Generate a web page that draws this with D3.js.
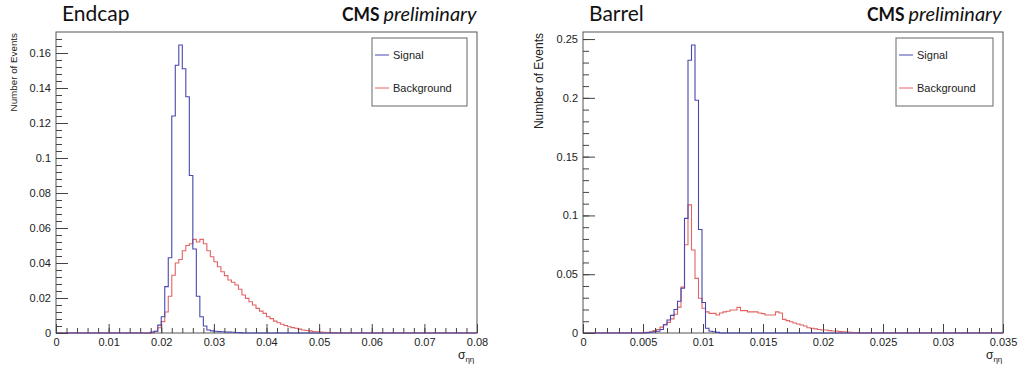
<!DOCTYPE html>
<html>
<head>
<meta charset="utf-8">
<script src="https://cdn.jsdelivr.net/npm/d3@7"></script>
<style>
  html, body { margin: 0; padding: 0; background: #fff; }
  svg { display: block; }
</style>
</head>
<body>
<svg id="chart" width="1021" height="367"></svg>
<script>
// ---------------- DATA ----------------
const nBins = 120;

// Endcap (x range 0 .. 0.08)
const endcapXTicks = [0, 0.01, 0.02, 0.03, 0.04, 0.05, 0.06, 0.07, 0.08];
const endcapXTickLabels = ["0", "0.01", "0.02", "0.03", "0.04", "0.05", "0.06", "0.07", "0.08"];
const endcapYTicks = [0, 0.02, 0.04, 0.06, 0.08, 0.1, 0.12, 0.14, 0.16];
const endcapYTickLabels = ["0", "0.02", "0.04", "0.06", "0.08", "0.1", "0.12", "0.14", "0.16"];
const endcapSignalStart = 27;
const endcapSignal = [0.0005, 0.001, 0.0045, 0.0093, 0.0265, 0.043, 0.124, 0.153, 0.1646, 0.151,
  0.135, 0.090, 0.048, 0.021, 0.0093, 0.004, 0.0017, 0.0012, 0.001, 0.0008, 0.0007, 0.0006,
  0.0005, 0.0004, 0.0003, 0.0002];
const endcapBackgroundStart = 28;
const endcapBackground = [0.001, 0.003, 0.0065, 0.012, 0.021, 0.033, 0.040, 0.042, 0.047, 0.050,
  0.051, 0.0535, 0.052, 0.0535, 0.051, 0.047, 0.0436, 0.0407, 0.0379, 0.035, 0.0328, 0.0303,
  0.029, 0.0274, 0.025, 0.0217, 0.0198, 0.0179, 0.016, 0.0141, 0.0125, 0.0112, 0.0093, 0.0082,
  0.0068, 0.0059, 0.0050, 0.0043, 0.0036, 0.0031, 0.0027, 0.0022, 0.0017, 0.0014, 0.0012,
  0.0009, 0.0007, 0.0005, 0.0004, 0.0003, 0.0002, 0.0001];

// Barrel (x range 0 .. 0.035)
const barrelXTicks = [0, 0.005, 0.01, 0.015, 0.02, 0.025, 0.03, 0.035];
const barrelXTickLabels = ["0", "0.005", "0.01", "0.015", "0.02", "0.025", "0.03", "0.035"];
const barrelYTicks = [0, 0.05, 0.1, 0.15, 0.2, 0.25];
const barrelYTickLabels = ["0", "0.05", "0.1", "0.15", "0.2", "0.25"];
const barrelSignalStart = 18;
const barrelSignal = [0.0003, 0.0006, 0.001, 0.0015, 0.003, 0.007, 0.011, 0.015, 0.020, 0.027,
  0.038, 0.0975, 0.232, 0.245, 0.198, 0.088, 0.026, 0.004, 0.0015, 0.001, 0.0005];
const barrelBackgroundStart = 17;
const barrelBackground = [0.0003, 0.0006, 0.001, 0.002, 0.003, 0.005, 0.007, 0.009, 0.012, 0.016,
  0.022, 0.039, 0.075, 0.109, 0.0706, 0.0465, 0.0295, 0.021, 0.018, 0.0167, 0.0167, 0.0153,
  0.017, 0.018, 0.0185, 0.0196, 0.0196, 0.0218, 0.019, 0.019, 0.018, 0.018, 0.018, 0.017,
  0.0165, 0.0153, 0.0153, 0.0153, 0.018, 0.017, 0.0116, 0.0105, 0.0096, 0.0085, 0.0077, 0.0068,
  0.006, 0.0045, 0.004, 0.0035, 0.003, 0.0025, 0.0025, 0.002, 0.0017, 0.0017, 0.0012, 0.001,
  0.0008, 0.0006, 0.0004, 0.0003];

const seriesNames = ["Signal", "Background"];

// ---------------- DRAWING ----------------
const svg = d3.select("#chart");
const colSignal = "#4848b0";
const colBackground = "#e26464";
const frameCol = "#555";
const tickCol = "#444";
const labelFont = "'Liberation Sans', Arial, sans-serif";
const titleFont = "Lato, 'Open Sans', sans-serif";

function expand(start, vals) {
  const out = new Array(nBins).fill(0);
  vals.forEach((v, i) => { out[start + i] = v; });
  return out;
}

function drawPanel(cfg) {
  const g = svg.append("g");
  const xMax = cfg.xTicks[cfg.xTicks.length - 1];
  const x = d3.scaleLinear().domain([0, xMax]).range([cfg.left, cfg.right]);
  const y = d3.scaleLinear().domain([0, cfg.yMax]).range([cfg.bottom, cfg.top]);
  const bw = xMax / nBins;

  // frame
  g.append("rect")
    .attr("x", cfg.left).attr("y", cfg.top)
    .attr("width", cfg.right - cfg.left).attr("height", cfg.bottom - cfg.top)
    .attr("fill", "none").attr("stroke", frameCol).attr("stroke-width", 1);

  // histograms
  const line = d3.line().x(d => x(d[0])).y(d => y(d[1]));
  function histPts(vals) {
    const pts = [];
    vals.forEach((v, i) => { pts.push([i * bw, v]); pts.push([(i + 1) * bw, v]); });
    return pts;
  }
  [[cfg.background, colBackground], [cfg.signal, colSignal]].forEach(([vals, col]) => {
    g.append("path").attr("d", line(histPts(vals)))
      .attr("fill", "none").attr("stroke", col).attr("stroke-width", 1.1);
  });

  // x minor ticks
  const xMinorVals = d3.range(0, xMax + cfg.xMinorStep / 2, cfg.xMinorStep);
  g.append("g").attr("transform", `translate(0,${cfg.bottom})`)
    .call(d3.axisBottom(x).tickValues(xMinorVals).tickSize(-5).tickFormat(""))
    .call(s => s.select(".domain").remove())
    .call(s => s.selectAll("line").attr("stroke", tickCol));
  // x major ticks
  g.append("g").attr("transform", `translate(0,${cfg.bottom})`)
    .call(d3.axisBottom(x).tickValues(cfg.xTicks).tickSize(-9).tickPadding(5)
      .tickFormat((d, i) => cfg.xLabels[i]))
    .call(s => s.select(".domain").remove())
    .call(s => s.selectAll("line").attr("stroke", tickCol))
    .call(s => s.selectAll("text").attr("font-family", labelFont).attr("font-size", 11).attr("fill", "#222"));

  // y minor ticks
  const yMinorVals = d3.range(0, cfg.yMax, cfg.yMinorStep);
  g.append("g").attr("transform", `translate(${cfg.left},0)`)
    .call(d3.axisLeft(y).tickValues(yMinorVals).tickSize(-6).tickFormat(""))
    .call(s => s.select(".domain").remove())
    .call(s => s.selectAll("line").attr("stroke", tickCol));
  // y major ticks
  g.append("g").attr("transform", `translate(${cfg.left},0)`)
    .call(d3.axisLeft(y).tickValues(cfg.yTicks).tickSize(-12).tickPadding(5)
      .tickFormat((d, i) => cfg.yLabels[i]))
    .call(s => s.select(".domain").remove())
    .call(s => s.selectAll("line").attr("stroke", tickCol))
    .call(s => s.selectAll("text").attr("font-family", labelFont).attr("font-size", 11).attr("fill", "#222"));

  // y title
  g.append("text")
    .attr("transform", `translate(${cfg.yTitleX},${cfg.top + 1}) rotate(-90)`)
    .attr("text-anchor", "end").attr("dy", "0.35em")
    .attr("font-family", labelFont).attr("font-size", cfg.yTitleSize).attr("fill", "#222")
    .text("Number of Events");

  // x title sigma_eta-eta
  const xt = g.append("text")
    .attr("x", cfg.xTitleX).attr("y", cfg.bottom + 26)
    .attr("font-family", labelFont).attr("font-size", 12).attr("fill", "#222");
  xt.append("tspan").text("σ");
  xt.append("tspan").attr("dy", 3).attr("font-size", 8).text("ηη");

  // panel title
  g.append("text").attr("x", cfg.titleX).attr("y", 21)
    .attr("font-family", titleFont).attr("font-size", 21).attr("fill", "#111")
    .text(cfg.title);
  g.append("text").attr("x", cfg.cmsX).attr("y", 21)
    .attr("font-family", titleFont).attr("font-weight", "bold")
    .attr("font-size", 19).attr("fill", "#111")
    .attr("textLength", 37.5).attr("lengthAdjust", "spacingAndGlyphs").text("CMS");
  g.append("text").attr("x", cfg.cmsX + 41.5).attr("y", 21)
    .attr("font-family", titleFont).attr("font-style", "italic")
    .attr("font-size", 19).attr("fill", "#111")
    .attr("textLength", 93).attr("lengthAdjust", "spacingAndGlyphs").text("preliminary");

  // legend
  const lg = g.append("g");
  lg.append("rect").attr("x", cfg.legX).attr("y", 38).attr("width", cfg.legW).attr("height", 68)
    .attr("fill", "#fff").attr("stroke", "#666").attr("stroke-width", 1);
  [colSignal, colBackground].forEach((col, i) => {
    const yy = 55 + i * 33;
    lg.append("line").attr("x1", cfg.legX + 3).attr("x2", cfg.legX + 17)
      .attr("y1", yy).attr("y2", yy).attr("stroke", col).attr("stroke-width", 1);
    lg.append("text").attr("x", cfg.legX + 21).attr("y", yy).attr("dy", "0.35em")
      .attr("font-family", labelFont).attr("font-size", 11).attr("fill", "#222")
      .text(seriesNames[i]);
  });
}

drawPanel({
  title: "Endcap", titleX: 62, cmsX: 342,
  left: 56, right: 477, top: 32, bottom: 333, yMax: 0.172,
  xTicks: endcapXTicks, xLabels: endcapXTickLabels, xMinorStep: 0.002,
  yTicks: endcapYTicks, yLabels: endcapYTickLabels, yMinorStep: 0.004,
  signal: expand(endcapSignalStart, endcapSignal),
  background: expand(endcapBackgroundStart, endcapBackground),
  yTitleX: 14, yTitleSize: 9.8, xTitleX: 458,
  legX: 372, legW: 95
});

drawPanel({
  title: "Barrel", titleX: 589, cmsX: 867,
  left: 583, right: 1003, top: 32, bottom: 333, yMax: 0.256,
  xTicks: barrelXTicks, xLabels: barrelXTickLabels, xMinorStep: 0.001,
  yTicks: barrelYTicks, yLabels: barrelYTickLabels, yMinorStep: 0.01,
  signal: expand(barrelSignalStart, barrelSignal),
  background: expand(barrelBackgroundStart, barrelBackground),
  yTitleX: 539, yTitleSize: 12, xTitleX: 986,
  legX: 896, legW: 97
});
</script>
</body>
</html>
